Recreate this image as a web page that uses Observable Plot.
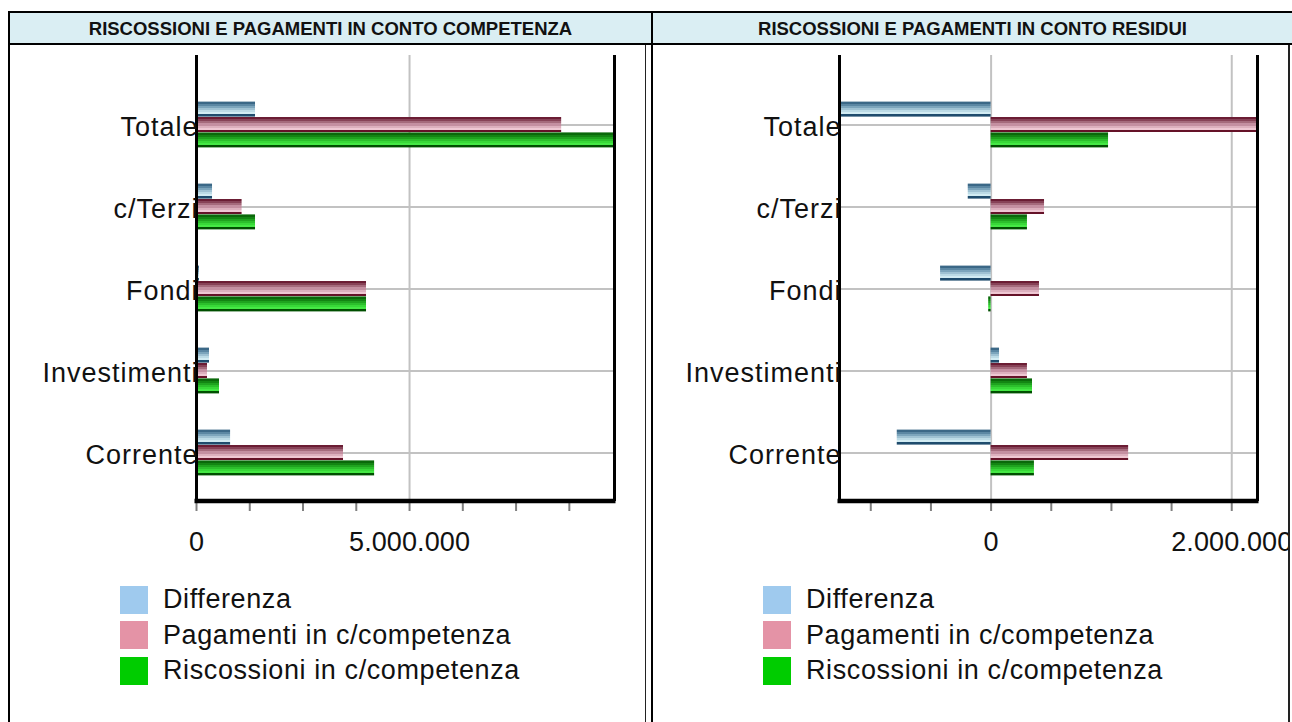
<!DOCTYPE html>
<html><head><meta charset="utf-8">
<script src="https://cdn.jsdelivr.net/npm/d3@7"></script>
<script src="https://cdn.jsdelivr.net/npm/@observablehq/plot@0.6"></script>
<style>
html,body{margin:0;padding:0;background:#fff;}
#wrap{position:relative;width:1292px;height:722px;overflow:hidden;background:#fff;font-family:"Liberation Sans",Arial,sans-serif;}
.ln{position:absolute;background:#000;}
.hdr{position:absolute;top:13px;height:30px;line-height:32px;text-align:center;font-weight:bold;font-size:18.5px;color:#111;white-space:nowrap;}
.chart{position:absolute;top:0;}
.chart g[aria-label="y-axis tick label"] text{letter-spacing:1px;}
.chart g[aria-label="x-axis tick label"] text{letter-spacing:0.1px;}
.legend{position:absolute;top:582px;}
.row{display:flex;align-items:center;height:35.5px;}
.sw{width:28px;height:28px;margin-right:15px;flex:none;}
.lab{font-size:27px;letter-spacing:0.6px;color:#111;white-space:nowrap;}
</style></head>
<body><div id="wrap"></div>
<script>
// ---- data ----
const categories = ["Totale", "c/Terzi", "Fondi", "Investimenti", "Corrente"];
const seriesNames = ["Differenza", "Pagamenti in c/competenza", "Riscossioni in c/competenza"];
const headers = ["RISCOSSIONI E PAGAMENTI IN CONTO COMPETENZA", "RISCOSSIONI E PAGAMENTI IN CONTO RESIDUI"];

const competenzaDifferenza = [1385000, 376000, 70000, 305000, 800000];
const competenzaPagamenti = [8570000, 1070000, 3990000, 258000, 3450000];
const competenzaRiscossioni = [9810000, 1385000, 3990000, 540000, 4180000];

const residuiDifferenza = [-1260000, -190000, -420000, 70000, -780000];
const residuiPagamenti = [2214000, 444000, 402000, 302000, 1143000];
const residuiRiscossioni = [976000, 302000, -20000, 344000, 360000];

const competenzaMajorTicks = [0, 5000000];
const competenzaMinorTicks = [0, 1250000, 2500000, 3750000, 5000000, 6250000, 7500000, 8750000];
const residuiMajorTicks = [0, 2000000];
const residuiMinorTicks = [-1000000, -500000, 0, 500000, 1000000, 1500000, 2000000];

// ---- styles ----
const legendColors = ["#9fcaee", "#e493a6", "#00cc00"];
const gradients = {
  gradBlue: ["#3b6887", "#5b87a3", "#7ca5bc", "#9fc2d3", "#bcdbe6", "#d2ecf3", "#1f4c6d"],
  gradPink: ["#6b1d34", "#874257", "#a56a7c", "#c48fa1", "#ddb0be", "#efc7d3", "#651228"],
  gradGreen: ["#0a690a", "#138513", "#1fa31f", "#2cbf2c", "#38d838", "#45e845", "#004f00"]
};
const FONT = '"Liberation Sans", Arial, sans-serif';
const BAR = 15.4;
const itFormat = d3.formatLocale({decimal: ",", thousands: ".", grouping: [3], currency: ["€", ""]}).format(",d");

const wrap = document.getElementById("wrap");

// gradient defs
const defsSvg = d3.select(wrap).append("svg").attr("width", 0).attr("height", 0).style("position", "absolute");
const defs = defsSvg.append("defs");
for (const [id, cols] of Object.entries(gradients)) {
  const g = defs.append("linearGradient").attr("id", id).attr("x1", 0).attr("y1", 0).attr("x2", 0).attr("y2", 1);
  cols.forEach((c, i) => {
    g.append("stop").attr("offset", i / cols.length).attr("stop-color", c);
    g.append("stop").attr("offset", (i + 1) / cols.length).attr("stop-color", c);
  });
}

// table structure
function box(cls, l, t, w, h, extra) {
  const d = document.createElement("div");
  d.className = cls;
  Object.assign(d.style, {left: l + "px", top: t + "px", width: w + "px", height: h + "px"}, extra || {});
  wrap.appendChild(d);
  return d;
}
box("ln", 8, 13, 1284, 30, {background: "#daeef3"});
box("ln", 8, 11, 1284, 2);
box("ln", 8, 43, 1284, 2);
box("ln", 8, 11, 2, 711);
box("ln", 651, 11, 2, 711);
box("ln", 645, 45, 1, 677, {background: "#222"});
box("ln", 1288, 45, 2, 677, {background: "#222"});
box("hdr", 10, 13, 641, 30).textContent = headers[0];
box("hdr", 653, 13, 639, 30).textContent = headers[1];

function makeChart(dif, pag, ris, major, minor, left, width, marginLeft) {
  const rows = s => categories.map((c, i) => ({category: c, value: s[i]}));
  const all = [...dif, ...pag, ...ris];
  const domain = [Math.min(0, d3.min(all)), Math.max(0, d3.max(all))];
  const bottomLine = (index, scales, values, dims) => d3.create("svg:line")
    .attr("x1", scales.x(domain[0]) - 1.5).attr("x2", scales.x(domain[1]) + 1.5)
    .attr("y1", dims.height - dims.marginBottom).attr("y2", dims.height - dims.marginBottom)
    .attr("stroke", "#000").attr("stroke-width", 4.5).node();
  const plot = Plot.plot({
    width, height: 580,
    marginLeft, marginRight: 31, marginTop: 55, marginBottom: 79,
    style: {background: "transparent", fontFamily: FONT, fontSize: "27px", color: "#111", overflow: "hidden"},
    x: {domain, label: null},
    y: {domain: categories, range: [82.75, 495.25], paddingInner: 0.8133, paddingOuter: 0.40665, align: 0.5, label: null},
    marks: [
      Plot.gridY({stroke: "#c2c2c2", strokeOpacity: 1, strokeWidth: 2}),
      Plot.gridX({ticks: major, stroke: "#c2c2c2", strokeOpacity: 1, strokeWidth: 2}),
      Plot.barX(rows(dif), {x: "value", y: "category", dy: -BAR, fill: "url(#gradBlue)"}),
      Plot.barX(rows(pag), {x: "value", y: "category", fill: "url(#gradPink)"}),
      Plot.barX(rows(ris), {x: "value", y: "category", dy: BAR, fill: "url(#gradGreen)"}),
      Plot.ruleX(domain, {stroke: "#000", strokeWidth: 3}),
      Plot.axisX({ticks: minor, tickSize: 10, tickFormat: () => "", stroke: "#808080", strokeWidth: 2}),
      bottomLine,
      Plot.axisX({ticks: major, tickSize: 0, tickPadding: 30, tickFormat: itFormat, fontSize: 27, fill: "#111"}),
      Plot.axisY({tickSize: 0, tickPadding: -2, dy: 2, fontSize: 27, fill: "#111"})
    ]
  });
  plot.classList.add("chart");
  plot.style.left = left + "px";
  wrap.appendChild(plot);
}

makeChart(competenzaDifferenza, competenzaPagamenti, competenzaRiscossioni, competenzaMajorTicks, competenzaMinorTicks, 0, 645, 196);
makeChart(residuiDifferenza, residuiPagamenti, residuiRiscossioni, residuiMajorTicks, residuiMinorTicks, 653, 635, 186);

function legend(left) {
  const lg = document.createElement("div");
  lg.className = "legend";
  lg.style.left = left + "px";
  seriesNames.forEach((name, i) => {
    const r = document.createElement("div");
    r.className = "row";
    const sw = document.createElement("div");
    sw.className = "sw";
    sw.style.background = legendColors[i];
    const lb = document.createElement("span");
    lb.className = "lab";
    lb.textContent = name;
    r.appendChild(sw); r.appendChild(lb);
    lg.appendChild(r);
  });
  wrap.appendChild(lg);
}
legend(120);
legend(763);
</script>
</body></html>
